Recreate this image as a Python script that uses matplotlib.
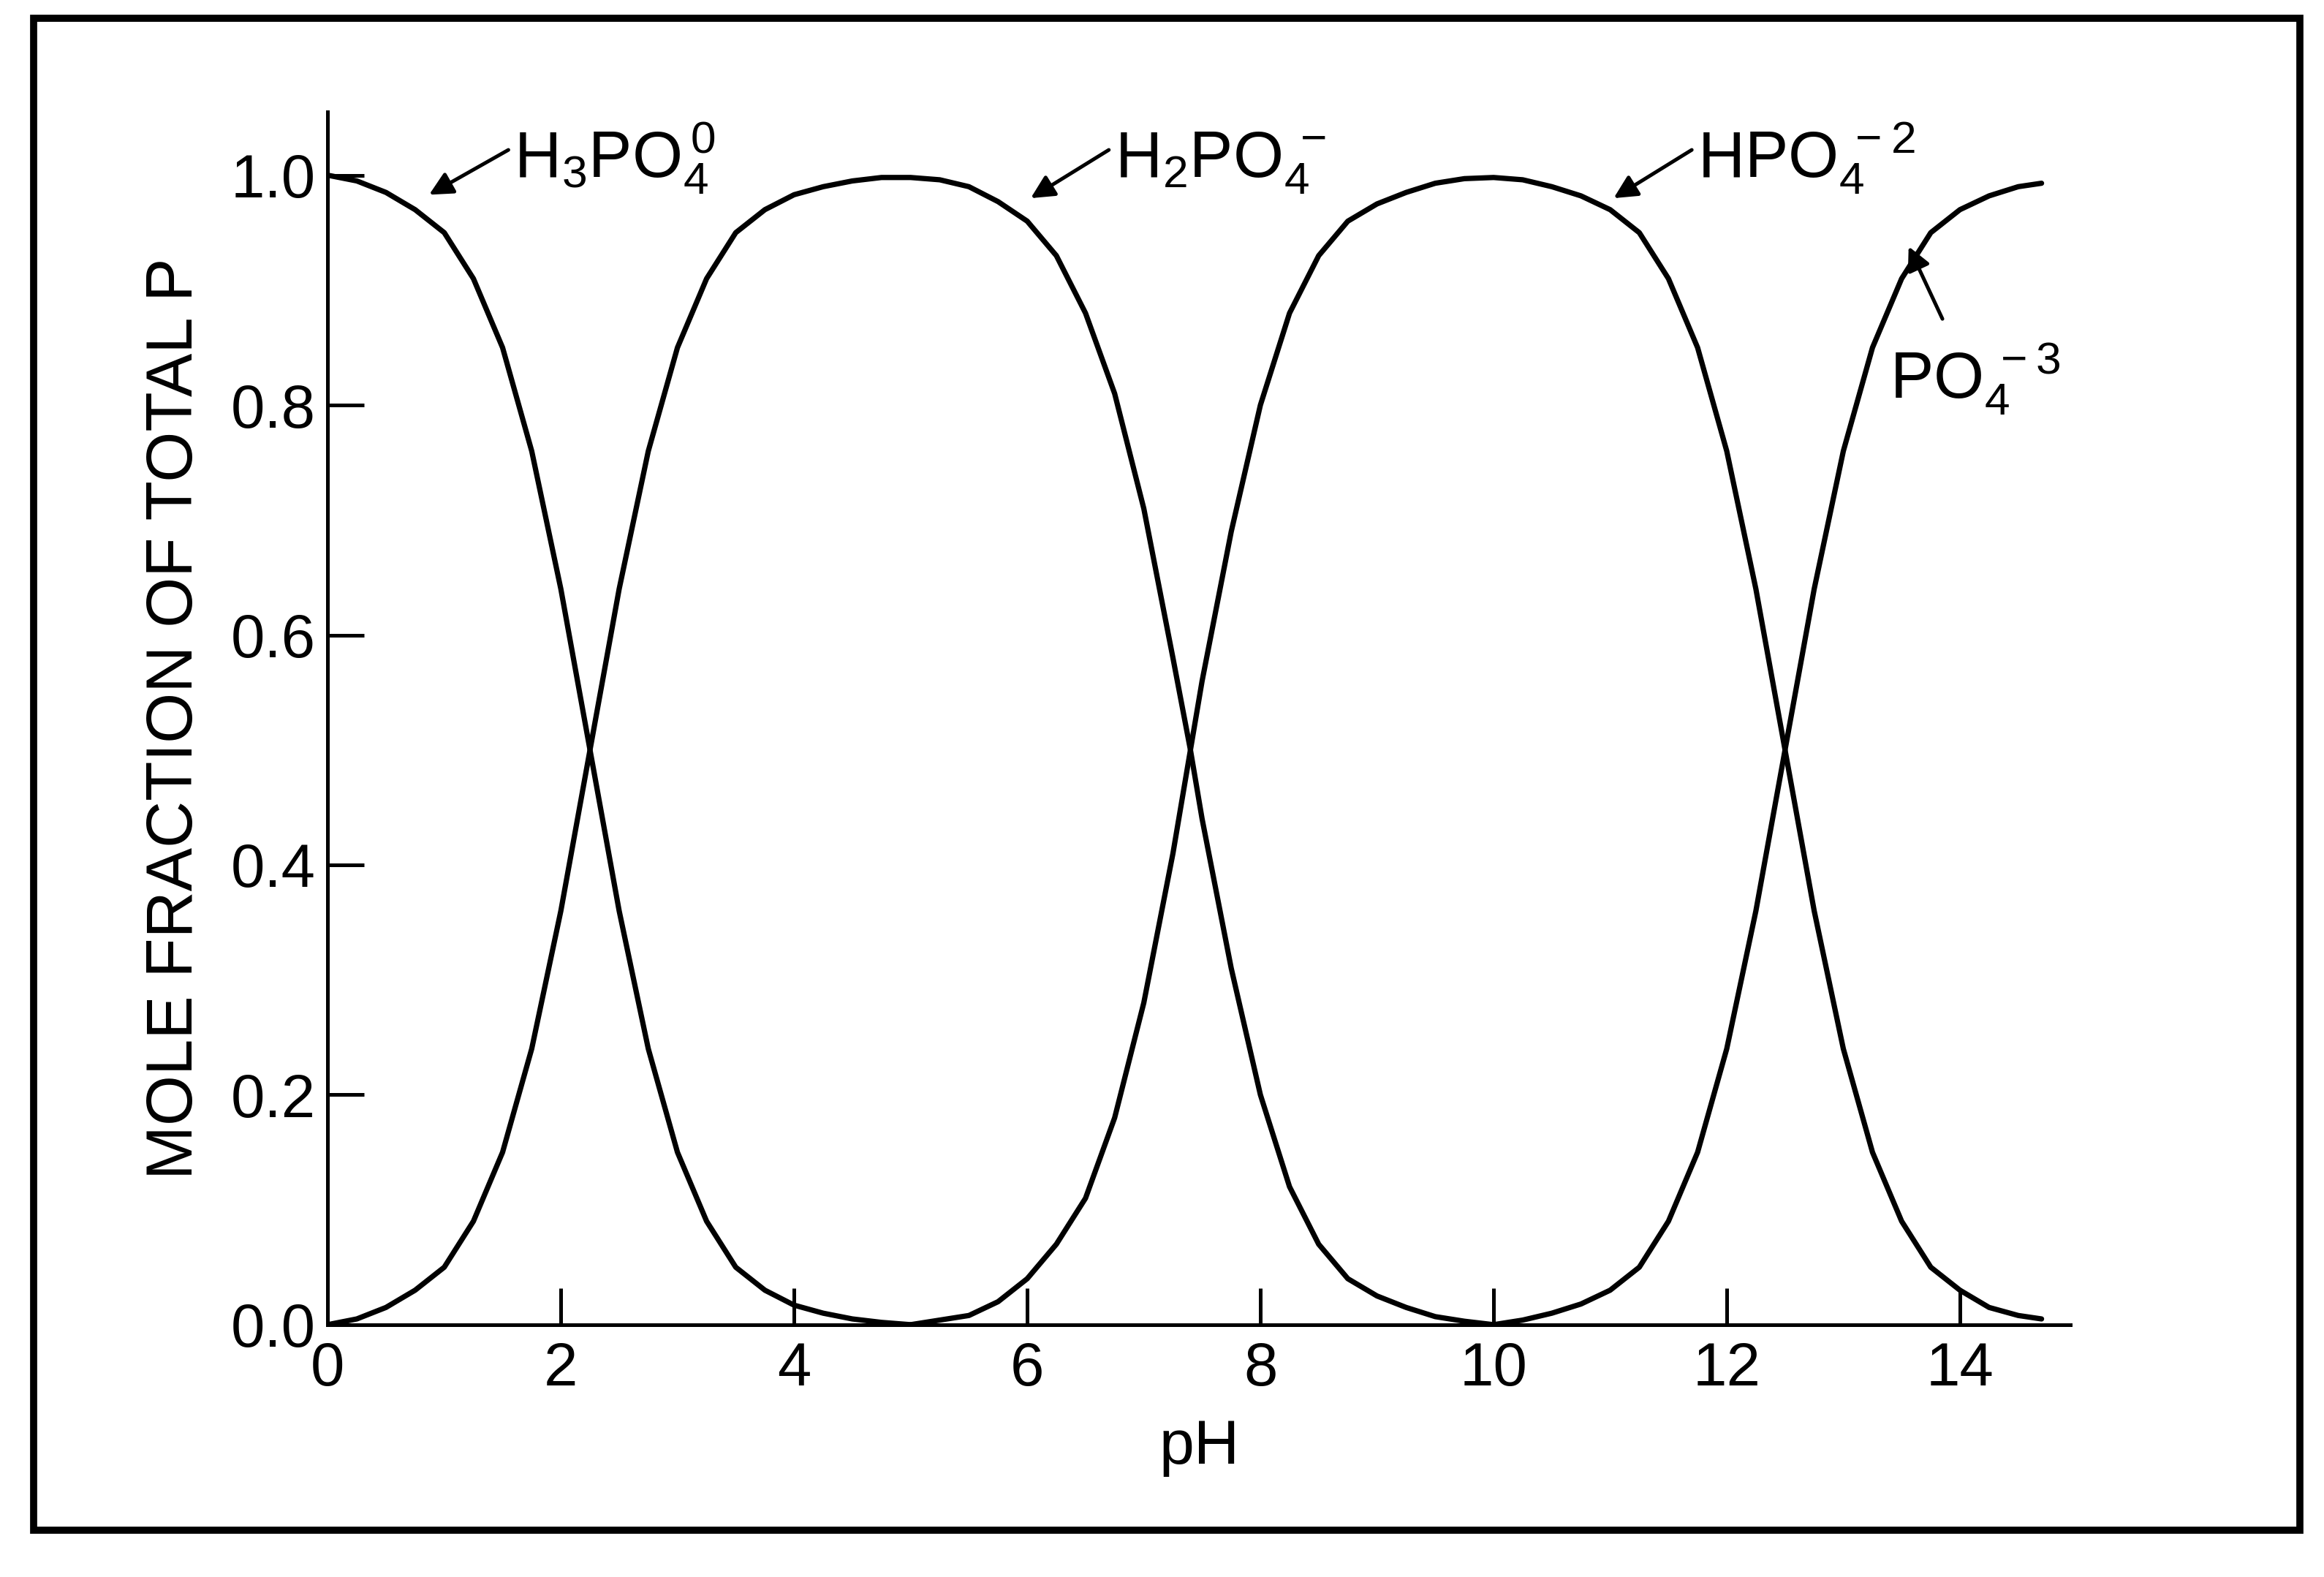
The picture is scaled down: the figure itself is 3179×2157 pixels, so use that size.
import matplotlib
matplotlib.use('Agg')
import matplotlib.pyplot as plt
from matplotlib.patches import Rectangle

plt.rcParams['font.family'] = 'Liberation Sans'
plt.rcParams['mathtext.fontset'] = 'custom'
plt.rcParams['mathtext.rm'] = 'Liberation Sans'

# values (mole fraction vs pH)
ph_h3 = [0, 0.25, 0.5, 0.75, 1, 1.25, 1.5, 1.75, 2, 2.25, 2.5, 2.75, 3, 3.25, 3.5, 3.75, 4, 4.25, 4.5, 4.75, 5]
h3po4 = [1.0, 0.995, 0.985, 0.97, 0.95, 0.91, 0.85, 0.76, 0.64, 0.5, 0.36, 0.24, 0.15, 0.09, 0.05, 0.03, 0.017,
         0.01, 0.005, 0.002, 0.0]

ph_h2 = [0, 0.25, 0.5, 0.75, 1, 1.25, 1.5, 1.75, 2, 2.25, 2.5, 2.75, 3, 3.25, 3.5, 3.75, 4, 4.25, 4.5, 4.75,
         5, 5.25, 5.5, 5.75, 6, 6.25, 6.5, 6.75, 7, 7.25, 7.4, 7.5, 7.75, 8, 8.25, 8.5, 8.75, 9, 9.25, 9.5,
         9.75, 10]
h2po4 = [0.0, 0.005, 0.015, 0.03, 0.05, 0.09, 0.15, 0.24, 0.36, 0.5, 0.64, 0.76, 0.85, 0.91, 0.95, 0.97, 0.983,
         0.99, 0.995, 0.998, 0.998, 0.996, 0.99, 0.977, 0.96, 0.93, 0.88, 0.81, 0.71, 0.58, 0.5, 0.44, 0.31, 0.2,
         0.12, 0.07, 0.04, 0.025, 0.015, 0.007, 0.003, 0.0]

ph_h1 = [5, 5.25, 5.5, 5.75, 6, 6.25, 6.5, 6.75, 7, 7.25, 7.4, 7.5, 7.75, 8, 8.25, 8.5, 8.75, 9, 9.25, 9.5,
         9.75, 10, 10.25, 10.5, 10.75, 11, 11.25, 11.5, 11.75, 12, 12.25, 12.5, 12.75, 13, 13.25, 13.5, 13.75,
         14, 14.25, 14.5, 14.7]
hpo4 = [0.0, 0.004, 0.008, 0.02, 0.04, 0.07, 0.11, 0.18, 0.28, 0.41, 0.5, 0.56, 0.69, 0.8, 0.88, 0.93, 0.96,
        0.975, 0.985, 0.993, 0.997, 0.998, 0.996, 0.99, 0.982, 0.97, 0.95, 0.91, 0.85, 0.76, 0.64, 0.5, 0.36,
        0.24, 0.15, 0.09, 0.05, 0.03, 0.015, 0.008, 0.005]

ph_p = [10, 10.25, 10.5, 10.75, 11, 11.25, 11.5, 11.75, 12, 12.25, 12.5, 12.75, 13, 13.25, 13.5, 13.75, 14,
        14.25, 14.5, 14.7]
po4 = [0.0, 0.004, 0.01, 0.018, 0.03, 0.05, 0.09, 0.15, 0.24, 0.36, 0.5, 0.64, 0.76, 0.85, 0.91, 0.95, 0.97,
       0.982, 0.99, 0.993]

xticks = [0, 2, 4, 6, 8, 10, 12, 14]
yticks = [0.0, 0.2, 0.4, 0.6, 0.8, 1.0]

fig = plt.figure(figsize=(15.895, 10.785), dpi=200)
ax = fig.add_axes([0.141, 0.16, 0.75, 0.769])

for xs, ys in [(ph_h3, h3po4), (ph_h2, h2po4), (ph_h1, hpo4), (ph_p, po4)]:
    ax.plot(xs, ys, color='black', lw=2.6, solid_joinstyle='round', solid_capstyle='round')

ax.set_xlim(0, 14.95)
ax.set_ylim(0, 1.055)
ax.set_xticks(xticks)
ax.set_xticklabels([str(t) for t in xticks])
ax.set_yticks(yticks)
ax.set_yticklabels(['%.1f' % t for t in yticks])
ax.tick_params(direction='in', length=18, width=1.8, labelsize=30, pad=6)
ax.tick_params(axis='x', pad=8)
for s in ['top', 'right']:
    ax.spines[s].set_visible(False)
for s in ['left', 'bottom']:
    ax.spines[s].set_linewidth(1.8)
ax.set_xlabel('pH', fontsize=31, labelpad=10)
ax.set_ylabel('MOLE FRACTION OF TOTAL P', fontsize=32, labelpad=12)

arrow = dict(arrowstyle='-|>', color='black', lw=1.8, mutation_scale=24, shrinkA=0, shrinkB=0)
labels = [
    (r'$\mathregular{H_3PO_4^{\,0}}$', (0.87, 0.983), (1.55, 1.022)),
    (r'$\mathregular{H_2PO_4^{\,-}}$', (6.03, 0.98), (6.7, 1.022)),
    (r'$\mathregular{HPO_4^{\,-2}}$', (11.03, 0.98), (11.7, 1.022)),
]
for txt, tip, tail in labels:
    ax.annotate('', xy=tip, xytext=tail, arrowprops=arrow)
    ax.text(tail[0] + 0.05, tail[1] - 0.04, txt, fontsize=32, va='bottom', ha='left')
ax.annotate('', xy=(13.56, 0.938), xytext=(13.85, 0.875), arrowprops=arrow)
ax.text(13.4, 0.79, r'$\mathregular{PO_4^{\,-3}}$', fontsize=32, va='bottom', ha='left')

fig.patches.append(Rectangle((0.0145, 0.0295), 0.975, 0.959, transform=fig.transFigure,
                             fill=False, edgecolor='black', lw=3.5))
fig.savefig('out.png', dpi=200)
